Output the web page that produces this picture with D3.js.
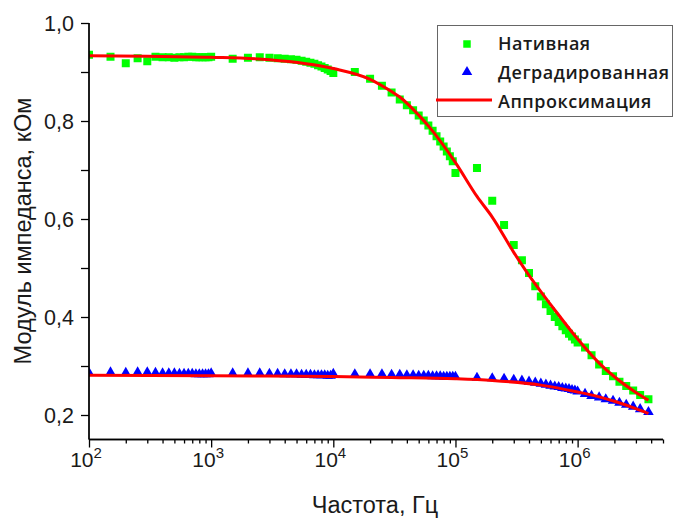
<!DOCTYPE html>
<html>
<head>
<meta charset="utf-8">
<script src="https://cdn.jsdelivr.net/npm/d3@7/dist/d3.min.js"></script>
<style>
	body { margin: 0; background: #ffffff; }
	svg { display: block; }
</style>
</head>
<body>
<svg id="chart" width="684" height="520"></svg>
<script>
// measured frequencies, Hz
var freq = [
	100, 150, 200, 250, 300, 350, 400, 450, 500, 550, 600, 650, 700, 750, 800, 850, 900, 950,
	1000, 1500, 2000, 2500, 3000, 3500, 4000, 4500, 5000, 5500, 6000, 6500, 7000, 7500, 8000, 8500, 9000, 9500,
	10000, 15000, 20000, 25000, 30000, 35000, 40000, 45000, 50000, 55000, 60000, 65000, 70000, 75000, 80000, 85000, 90000, 95000,
	100000, 150000, 200000, 250000, 300000, 350000, 400000, 450000, 500000, 550000, 600000, 650000, 700000, 750000, 800000, 850000, 900000, 950000,
	1000000, 1150000, 1300000, 1500000, 1700000, 1950000, 2200000, 2500000, 2850000, 3250000, 3800000
];

// native sample, kOhm
var nativeValues = [
	0.935, 0.931, 0.918, 0.928, 0.922, 0.931, 0.930, 0.930, 0.929, 0.930, 0.930, 0.931, 0.931, 0.930, 0.930, 0.930, 0.930, 0.930,
	0.931, 0.927, 0.929, 0.930, 0.929, 0.928, 0.927, 0.926, 0.925, 0.923, 0.921, 0.919, 0.917, 0.914, 0.911, 0.908, 0.905, 0.902,
	0.898, 0.900, 0.886, 0.872, 0.858, 0.844, 0.832, 0.822, 0.811, 0.801, 0.791, 0.780, 0.769, 0.758, 0.748, 0.738, 0.728, 0.718,
	0.694, 0.704, 0.637, 0.588, 0.547, 0.516, 0.490, 0.463, 0.442, 0.426, 0.412, 0.400, 0.390, 0.381, 0.373, 0.366, 0.360, 0.354,
	0.348, 0.338, 0.322, 0.303, 0.290, 0.279, 0.268, 0.259, 0.250, 0.241, 0.232
];

// degraded sample, kOhm
var degradedValues = [
	0.286, 0.287, 0.286, 0.287, 0.287, 0.286, 0.285, 0.285, 0.285, 0.284, 0.284, 0.284, 0.284, 0.283, 0.283, 0.283, 0.283, 0.283,
	0.285, 0.285, 0.285, 0.285, 0.284, 0.284, 0.283, 0.283, 0.283, 0.282, 0.282, 0.282, 0.281, 0.281, 0.281, 0.281, 0.280, 0.280,
	0.284, 0.283, 0.283, 0.283, 0.282, 0.282, 0.281, 0.281, 0.280, 0.280, 0.280, 0.279, 0.279, 0.279, 0.278, 0.278, 0.278, 0.278,
	0.278, 0.276, 0.275, 0.274, 0.272, 0.270, 0.268, 0.266, 0.264, 0.262, 0.260, 0.258, 0.257, 0.255, 0.254, 0.253, 0.251, 0.250,
	0.248, 0.243, 0.239, 0.236, 0.232, 0.229, 0.225, 0.221, 0.217, 0.212, 0.206
];

// approximation curves
var fitNativeFreq = [100, 300, 1000, 3000, 10000, 20000, 30000, 35000, 50000, 60000, 100000, 150000, 200000, 300000, 400000, 500000, 700000, 1000000, 1500000, 2000000, 3000000, 3800000];
var fitNativeValues = [0.933, 0.932, 0.930, 0.925, 0.907, 0.885, 0.860, 0.849, 0.812, 0.790, 0.715, 0.646, 0.604, 0.532, 0.485, 0.452, 0.404, 0.355, 0.306, 0.278, 0.246, 0.230];
var fitDegradedFreq = [100, 1000, 10000, 30000, 100000, 200000, 500000, 1000000, 1500000, 2000000, 3000000, 3800000];
var fitDegradedValues = [0.281, 0.280, 0.2785, 0.2765, 0.274, 0.2705, 0.261, 0.247, 0.237, 0.228, 0.213, 0.203];

var xMajorTicks = [1e2, 1e3, 1e4, 1e5, 1e6];
var xMinorTicks = [
	200, 300, 400, 500, 600, 700, 800, 900,
	2000, 3000, 4000, 5000, 6000, 7000, 8000, 9000,
	20000, 30000, 40000, 50000, 60000, 70000, 80000, 90000,
	200000, 300000, 400000, 500000, 600000, 700000, 800000, 900000,
	2000000, 3000000, 4000000, 5000000
];
var yMajorTicks = [0.2, 0.4, 0.6, 0.8, 1.0];
var yMinorTicks = [0.3, 0.5, 0.7, 0.9];

var legendLabels = ["Нативная", "Деградированная", "Аппроксимация"];
var xTitle = "Частота, Гц";
var yTitle = "Модуль импеданса, кОм";

var GREEN = "#00ff00";
var BLUE = "#0000ff";
var RED = "#ff0000";
var AXIS_FONT = "Liberation Sans, Arial, sans-serif";

var svg = d3.select("#chart");

var x = d3.scaleLog().domain([1e2, 5e6]).range([89, 663]);
var y = d3.scaleLinear().domain([0.15, 1.0]).range([439.5, 23]);

svg.append("defs").append("clipPath")
	.attr("id", "plotClip")
	.append("rect")
	.attr("x", 89)
	.attr("y", 10)
	.attr("width", 590)
	.attr("height", 429.5);

var plot = svg.append("g").attr("clip-path", "url(#plotClip)");

// Scatter: native
plot.append("g").selectAll("path")
	.data(freq.map(function(f, i) { return [f, nativeValues[i]]; }))
	.enter().append("path")
	.attr("d", d3.symbol().type(d3.symbolSquare).size(64))
	.attr("transform", function(d) { return "translate(" + x(d[0]) + "," + y(d[1]) + ")"; })
	.style("fill", GREEN);

// Scatter: degraded
plot.append("g").selectAll("path")
	.data(freq.map(function(f, i) { return [f, degradedValues[i]]; }))
	.enter().append("path")
	.attr("d", d3.symbol().type(d3.symbolTriangle).size(48))
	.attr("transform", function(d) { return "translate(" + x(d[0]) + "," + y(d[1]) + ")"; })
	.style("fill", BLUE);

// Fit lines
var line = d3.line()
	.x(function(d) { return x(d[0]); })
	.y(function(d) { return y(d[1]); })
	.curve(d3.curveMonotoneX);

plot.append("path")
	.datum(fitNativeFreq.map(function(f, i) { return [f, fitNativeValues[i]]; }))
	.attr("d", line)
	.style("fill", "none")
	.style("stroke", RED)
	.style("stroke-width", 3);

plot.append("path")
	.datum(fitDegradedFreq.map(function(f, i) { return [f, fitDegradedValues[i]]; }))
	.attr("d", line)
	.style("fill", "none")
	.style("stroke", RED)
	.style("stroke-width", 3);

// X axis
var xAxis = svg.append("g").attr("transform", "translate(0,439.5)");
xAxis.call(d3.axisBottom(x).tickValues(xMinorTicks).tickSize(4).tickFormat(""));
xAxis.append("g").call(d3.axisBottom(x).tickValues(xMajorTicks).tickSize(8).tickSizeOuter(0).tickFormat(""));
xAxis.selectAll(".domain").attr("d", "M89,0H663");
xAxis.selectAll("line, path").style("stroke", "#000").style("stroke-width", 1.3);

var xLabels = svg.append("g").selectAll("text")
	.data(xMajorTicks)
	.enter().append("text")
	.attr("x", function(d) { return x(d) - 3; })
	.attr("y", 467)
	.attr("font-family", AXIS_FONT)
	.attr("font-size", "21px")
	.style("text-anchor", "middle")
	.style("fill", "#1a1a1a");
xLabels.append("tspan").text("10");
xLabels.append("tspan")
	.attr("dy", -9)
	.attr("font-size", "15px")
	.text(function(d) { return Math.round(Math.log10(d)); });

// Y axis
var yAxis = svg.append("g").attr("transform", "translate(89,0)");
yAxis.call(d3.axisLeft(y).tickValues(yMinorTicks).tickSize(8).tickFormat(""));
yAxis.append("g").call(d3.axisLeft(y).tickValues(yMajorTicks).tickSize(8).tickSizeOuter(0).tickFormat(""));
yAxis.selectAll(".domain").attr("d", "M0,23V439.5");
yAxis.selectAll("line, path").style("stroke", "#000").style("stroke-width", 1.3);

svg.append("g").selectAll("text")
	.data(yMajorTicks)
	.enter().append("text")
	.attr("x", 74)
	.attr("y", function(d) { return y(d) + 7.5; })
	.attr("font-family", AXIS_FONT)
	.attr("font-size", "21.5px")
	.style("text-anchor", "end")
	.style("fill", "#1a1a1a")
	.text(function(d) { return d3.format(".1f")(d).replace(".", ","); });

// Axis titles
svg.append("text")
	.attr("x", 375)
	.attr("y", 513)
	.attr("font-family", AXIS_FONT)
	.attr("font-size", "23.5px")
	.style("text-anchor", "middle")
	.style("fill", "#1a1a1a")
	.text(xTitle);

svg.append("text")
	.attr("transform", "translate(31,231) rotate(-90)")
	.attr("font-family", AXIS_FONT)
	.attr("font-size", "23.5px")
	.style("text-anchor", "middle")
	.style("fill", "#1a1a1a")
	.text(yTitle);

// Legend
var legend = svg.append("g");
legend.append("rect")
	.attr("x", 437.5)
	.attr("y", 25.5)
	.attr("width", 235)
	.attr("height", 91)
	.style("fill", "#ffffff")
	.style("stroke", "#666")
	.style("stroke-width", 1);

legend.append("path")
	.attr("d", d3.symbol().type(d3.symbolSquare).size(56))
	.attr("transform", "translate(467,44)")
	.style("fill", GREEN);
legend.append("path")
	.attr("d", d3.symbol().type(d3.symbolTriangle).size(48))
	.attr("transform", "translate(467,72)")
	.style("fill", BLUE);
legend.append("line")
	.attr("x1", 436)
	.attr("x2", 492)
	.attr("y1", 100)
	.attr("y2", 100)
	.style("stroke", RED)
	.style("stroke-width", 3);

legend.selectAll("text.lbl")
	.data(legendLabels)
	.enter().append("text")
	.attr("class", "lbl")
	.attr("x", 498)
	.attr("y", function(d, i) { return 50 + i * 29; })
	.attr("font-family", "Open Sans, sans-serif")
	.attr("font-weight", 600)
	.attr("font-size", "18px")
	.attr("letter-spacing", "0.5px")
	.style("fill", "#1a1a1a")
	.text(function(d) { return d; });
</script>
</body>
</html>
